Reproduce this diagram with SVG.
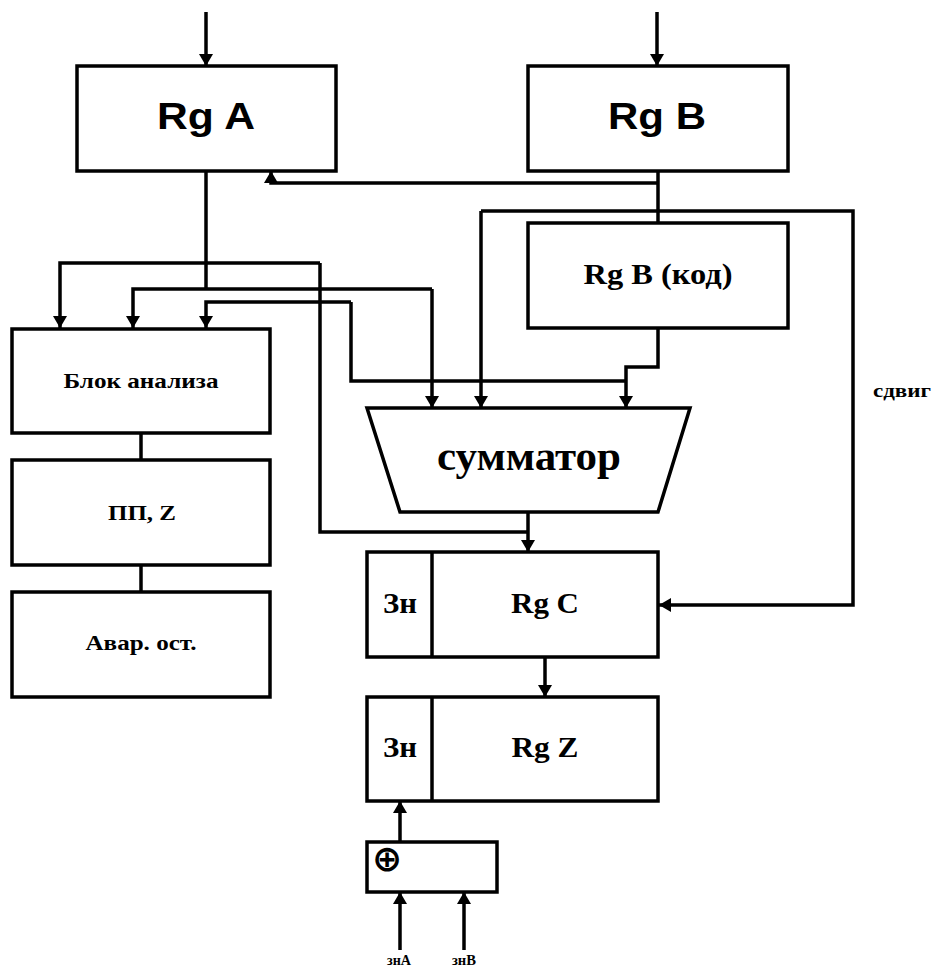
<svg xmlns="http://www.w3.org/2000/svg" width="937" height="967" viewBox="0 0 937 967">
<style>
.box{fill:#fff;stroke:#000;stroke-width:3.5;stroke-linejoin:miter}
.ln{fill:none;stroke:#000;stroke-width:3.5;stroke-linejoin:miter}
.sans{font-family:"Liberation Sans",Arial,sans-serif;font-weight:bold;text-anchor:middle;fill:#000}
.serif{font-family:"Liberation Serif","Times New Roman",serif;font-weight:bold;text-anchor:middle;fill:#000}
</style>
<defs>
<marker id="ah" viewBox="0 0 12 14" refX="12" refY="7" markerWidth="12" markerHeight="14" orient="auto" markerUnits="userSpaceOnUse"><path d="M0,0 L12,7 L0,14 z" fill="#000"/></marker>
</defs>
<rect width="937" height="967" fill="#fff"/>
<g id="connectors">
<path class="ln" d="M206,12 V66" marker-end="url(#ah)"/>
<path class="ln" d="M657,12 V66" marker-end="url(#ah)"/>
<path class="ln" d="M658,183 H271 V171" marker-end="url(#ah)"/>
<path class="ln" d="M206,171 V289"/>
<path class="ln" d="M320,263 H60 V328" marker-end="url(#ah)"/>
<path class="ln" d="M320,263 V532 H528"/>
<path class="ln" d="M432,289 H133 V328" marker-end="url(#ah)"/>
<path class="ln" d="M432,289 V408" marker-end="url(#ah)"/>
<path class="ln" d="M351,302 H206 V328" marker-end="url(#ah)"/>
<path class="ln" d="M351,302 V381 H626"/>
<path class="ln" d="M658,328 V367 H626 V408" marker-end="url(#ah)"/>
<path class="ln" d="M658,171 V223"/>
<path class="ln" d="M481,211 V408" marker-end="url(#ah)"/>
<path class="ln" d="M481,211 H853 V605 H659" marker-end="url(#ah)"/>
<path class="ln" d="M528,512 V552" marker-end="url(#ah)"/>
<path class="ln" d="M545,657 V697" marker-end="url(#ah)"/>
<path class="ln" d="M400,842 V801" marker-end="url(#ah)"/>
<path class="ln" d="M400,950 V892" marker-end="url(#ah)"/>
<path class="ln" d="M464,950 V892" marker-end="url(#ah)"/>
<path class="ln" d="M141,433 V460"/>
<path class="ln" d="M141,565 V592"/>
</g>
<g id="rgA">
<rect class="box" x="77" y="66" width="259" height="105"/>
<text class="sans" x="206" y="129" font-size="36" textLength="98" lengthAdjust="spacingAndGlyphs">Rg A</text>
</g>
<g id="rgB">
<rect class="box" x="528" y="66" width="260" height="105"/>
<text class="sans" x="657" y="129" font-size="36" textLength="98" lengthAdjust="spacingAndGlyphs">Rg B</text>
</g>
<g id="rgBcode">
<rect class="box" x="528" y="223" width="260" height="105"/>
<text class="serif" x="658" y="284" font-size="29" textLength="149" lengthAdjust="spacingAndGlyphs">Rg B (код)</text>
</g>
<g id="blok">
<rect class="box" x="12" y="329" width="258" height="104"/>
<text class="serif" x="141" y="388" font-size="22" textLength="155" lengthAdjust="spacingAndGlyphs">Блок анализа</text>
</g>
<g id="ppz">
<rect class="box" x="12" y="460" width="258" height="105"/>
<text class="serif" x="142" y="520" font-size="22" textLength="68" lengthAdjust="spacingAndGlyphs">ПП, Z</text>
</g>
<g id="avar">
<rect class="box" x="12" y="592" width="258" height="105"/>
<text class="serif" x="141" y="650" font-size="22" textLength="111" lengthAdjust="spacingAndGlyphs">Авар. ост.</text>
</g>
<g id="adder">
<path class="box" d="M367,408 H690 L658,512 H400 Z"/>
<text class="serif" x="529" y="470" font-size="40" textLength="184" lengthAdjust="spacingAndGlyphs">сумматор</text>
</g>
<g id="rgC">
<rect class="box" x="367" y="552" width="291" height="105"/>
<line class="ln" x1="432" y1="552" x2="432" y2="657"/>
<text class="serif" x="400" y="613" font-size="29" textLength="34" lengthAdjust="spacingAndGlyphs">Зн</text>
<text class="serif" x="545" y="613" font-size="29" textLength="68" lengthAdjust="spacingAndGlyphs">Rg C</text>
</g>
<g id="rgZ">
<rect class="box" x="367" y="697" width="291" height="104"/>
<line class="ln" x1="432" y1="697" x2="432" y2="801"/>
<text class="serif" x="400" y="757" font-size="29" textLength="34" lengthAdjust="spacingAndGlyphs">Зн</text>
<text class="serif" x="545" y="757" font-size="29" textLength="67" lengthAdjust="spacingAndGlyphs">Rg Z</text>
</g>
<g id="xor">
<rect class="box" x="367" y="842" width="130" height="50"/>
<text x="387" y="871" font-family="'DejaVu Sans',sans-serif" font-weight="bold" font-size="36" text-anchor="middle">⊕</text>
</g>
<g id="labels">
<text class="serif" x="902" y="397" font-size="19" textLength="58" lengthAdjust="spacingAndGlyphs">сдвиг</text>
<text class="serif" x="399" y="965" font-size="14" textLength="24" lengthAdjust="spacingAndGlyphs">знА</text>
<text class="serif" x="464" y="965" font-size="14" textLength="24" lengthAdjust="spacingAndGlyphs">знВ</text>
</g>
</svg>
